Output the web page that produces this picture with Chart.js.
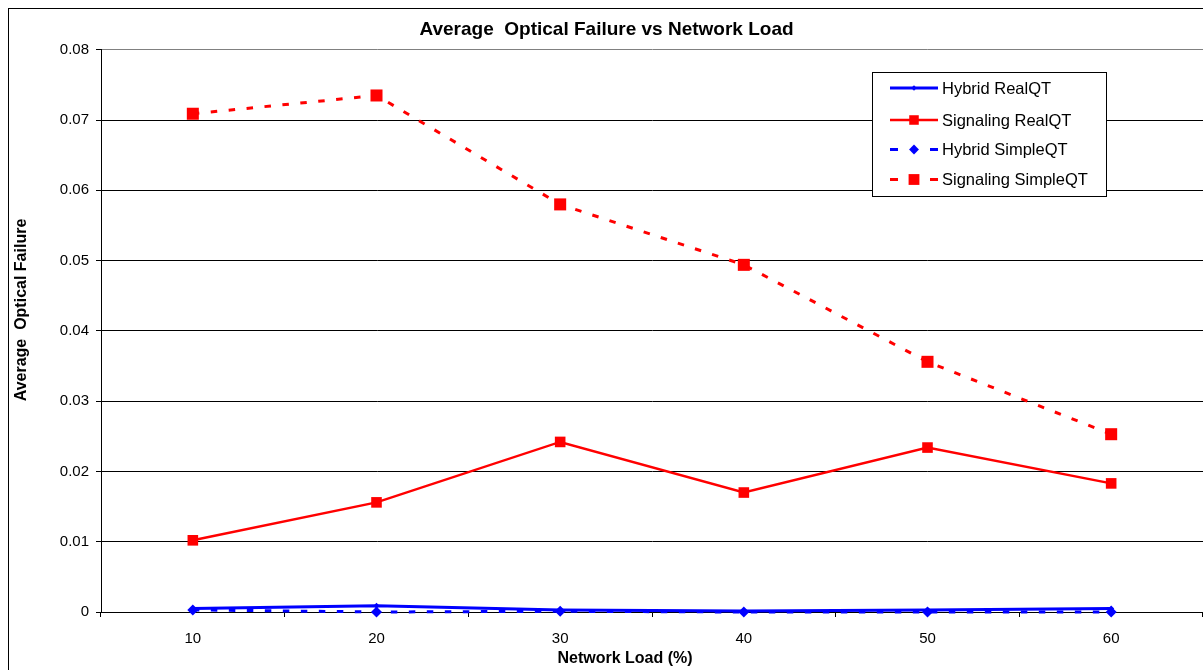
<!DOCTYPE html>
<html>
<head>
<meta charset="utf-8">
<script src="https://cdn.jsdelivr.net/npm/chart.js@4.4.1/dist/chart.umd.min.js"></script>
<style>
  html, body { margin: 0; padding: 0; background: #fff; }
  #wrap { width: 1203px; height: 670px; position: relative; }
</style>
</head>
<body>
<div id="wrap"><canvas id="c" width="1203" height="670"></canvas></div>
<script>
// ---- data ----
const categories = ['10', '20', '30', '40', '50', '60'];
const hybridRealQT = [0.0005, 0.0009, 0.0003, 0.00015, 0.0003, 0.0005];
const signalingRealQT = [0.0102, 0.0156, 0.0242, 0.0170, 0.0234, 0.0183];
const hybridSimpleQT = [0.0003, 0.0000, 0.0001, 0.0000, 0.0000, 0.0000];
const signalingSimpleQT = [0.0709, 0.0735, 0.0580, 0.0494, 0.0356, 0.0253];
const yTickLabels = ['0', '0.01', '0.02', '0.03', '0.04', '0.05', '0.06', '0.07', '0.08'];
const seriesNames = ['Hybrid RealQT', 'Signaling RealQT', 'Hybrid SimpleQT', 'Signaling SimpleQT'];
const titleText = 'Average  Optical Failure vs Network Load';
const xTitle = 'Network Load (%)';
const yTitle = 'Average  Optical Failure';

const FONT = "'Liberation Sans', Arial, sans-serif";
const BLUE = '#0000FF', RED = '#FF0000';
const DASH = [6.5, 11.5];

const frame = {
  id: 'frame',
  beforeDraw(chart) {
    const ctx = chart.ctx;
    ctx.save();
    ctx.fillStyle = '#fff';
    ctx.fillRect(0, 0, chart.width, chart.height);
    ctx.strokeStyle = '#000';
    ctx.lineWidth = 1;
    ctx.strokeRect(8.5, 8.5, 1400, 1000);
    ctx.restore();
  }
};

const axisTitles = {
  id: 'axisTitles',
  afterDraw(chart) {
    const ctx = chart.ctx;
    ctx.save();
    ctx.fillStyle = '#000';
    ctx.textAlign = 'center';
    ctx.textBaseline = 'middle';
    ctx.font = 'bold 16px ' + FONT;
    ctx.fillText(xTitle, 625, 659);
    ctx.translate(22, 310);
    ctx.rotate(-Math.PI / 2);
    ctx.fillText(yTitle, 0, 0);
    ctx.restore();
  }
};

function marker(ctx, style, x, y, r) {
  ctx.beginPath();
  if (style === 'rect') {
    const s = Math.SQRT1_2 * r;
    ctx.rect(x - s, y - s, 2 * s, 2 * s);
  } else {
    ctx.moveTo(x - r, y); ctx.lineTo(x, y - r); ctx.lineTo(x + r, y); ctx.lineTo(x, y + r);
    ctx.closePath();
  }
  ctx.fill();
}

const boxLegend = {
  id: 'boxLegend',
  afterDraw(chart) {
    const ctx = chart.ctx;
    ctx.save();
    const L = 872.5, T = 72.5, W = 234, H = 124;
    ctx.fillStyle = '#fff';
    ctx.fillRect(L, T, W, H);
    ctx.strokeStyle = '#000';
    ctx.lineWidth = 1;
    ctx.strokeRect(L, T, W, H);
    chart.data.datasets.forEach((ds, i) => {
      const y = [88, 120, 149.5, 179.5][i];
      ctx.strokeStyle = ds.borderColor;
      ctx.lineWidth = ds.borderWidth;
      ctx.setLineDash(ds.borderDash && ds.borderDash.length ? [8, 32] : []);
      ctx.beginPath();
      ctx.moveTo(890, y);
      ctx.lineTo(938, y);
      ctx.stroke();
      ctx.setLineDash([]);
      ctx.fillStyle = ds.pointBackgroundColor;
      marker(ctx, ds.pointStyle, 914, y, ds.pointRadius * 0.9);
      ctx.fillStyle = '#000';
      ctx.font = '16.5px ' + FONT;
      ctx.textBaseline = 'middle';
      ctx.textAlign = 'left';
      ctx.fillText(ds.label, 942, y + 1);
    });
    ctx.restore();
  }
};

function noSidePadding(s) {
  s.paddingLeft = 0; s.paddingRight = 0;
  const orig = s.getPadding.bind(s);
  s.getPadding = () => { const p = orig(); return { left: 0, right: 0, top: p.top, bottom: p.bottom }; };
}

new Chart(document.getElementById('c'), {
  type: 'line',
  data: {
    labels: categories,
    datasets: [
      { label: seriesNames[0], data: hybridRealQT, borderColor: BLUE, backgroundColor: BLUE,
        pointBackgroundColor: BLUE, pointBorderColor: BLUE, borderWidth: 3, pointStyle: 'rectRot',
        pointRadius: 3, pointBorderWidth: 0, order: 4, clip: false },
      { label: seriesNames[1], data: signalingRealQT, borderColor: RED, backgroundColor: RED,
        pointBackgroundColor: RED, pointBorderColor: RED, borderWidth: 2.5, pointStyle: 'rect',
        pointRadius: 7.5, pointBorderWidth: 0, order: 3, clip: false },
      { label: seriesNames[2], data: hybridSimpleQT, borderColor: BLUE, backgroundColor: BLUE,
        pointBackgroundColor: BLUE, pointBorderColor: BLUE, borderWidth: 3, borderDash: DASH,
        pointStyle: 'rectRot', pointRadius: 5.5, pointBorderWidth: 0, order: 2, clip: false },
      { label: seriesNames[3], data: signalingSimpleQT, borderColor: RED, backgroundColor: RED,
        pointBackgroundColor: RED, pointBorderColor: RED, borderWidth: 3, borderDash: DASH,
        pointStyle: 'rect', pointRadius: 8.5, pointBorderWidth: 0, order: 1, clip: false }
    ]
  },
  options: {
    responsive: false,
    animation: false,
    events: [],
    layout: { autoPadding: false, padding: { left: 8, right: -2, top: 0, bottom: 0 } },
    elements: { line: { tension: 0, fill: false } },
    plugins: {
      legend: { display: false },
      tooltip: { enabled: false },
      title: {
        display: true, text: titleText, color: '#000',
        font: { family: FONT, size: 19, weight: 'bold', lineHeight: 1.2 },
        padding: { top: 18.5, bottom: 8.5 }
      }
    },
    scales: {
      x: {
        type: 'category',
        offset: true,
        grid: { offset: true, drawOnChartArea: false, drawTicks: true, tickLength: 5, color: '#000', tickColor: '#000' },
        border: { color: '#000', width: 1 },
        ticks: { color: '#000', font: { family: FONT, size: 15 }, padding: 12.5, maxRotation: 0 },
        title: { display: false },
        afterFit(s) { s.height = 58; noSidePadding(s); }
      },
      y: {
        min: 0, max: 0.08,
        grid: {
          color: (c) => (c.tick && Math.abs(c.tick.value - 0.08) < 1e-9) ? '#808080' : '#000',
          tickColor: '#000', tickLength: 5, lineWidth: 1
        },
        border: { color: '#000', width: 1 },
        ticks: {
          stepSize: 0.01, color: '#000', padding: 7,
          font: { family: FONT, size: 15 },
          callback: (v, i) => yTickLabels[i]
        },
        title: { display: false },
        afterFit(s) { s.width = 93; noSidePadding(s); }
      }
    }
  },
  plugins: [frame, boxLegend, axisTitles]
});
</script>
</body>
</html>
